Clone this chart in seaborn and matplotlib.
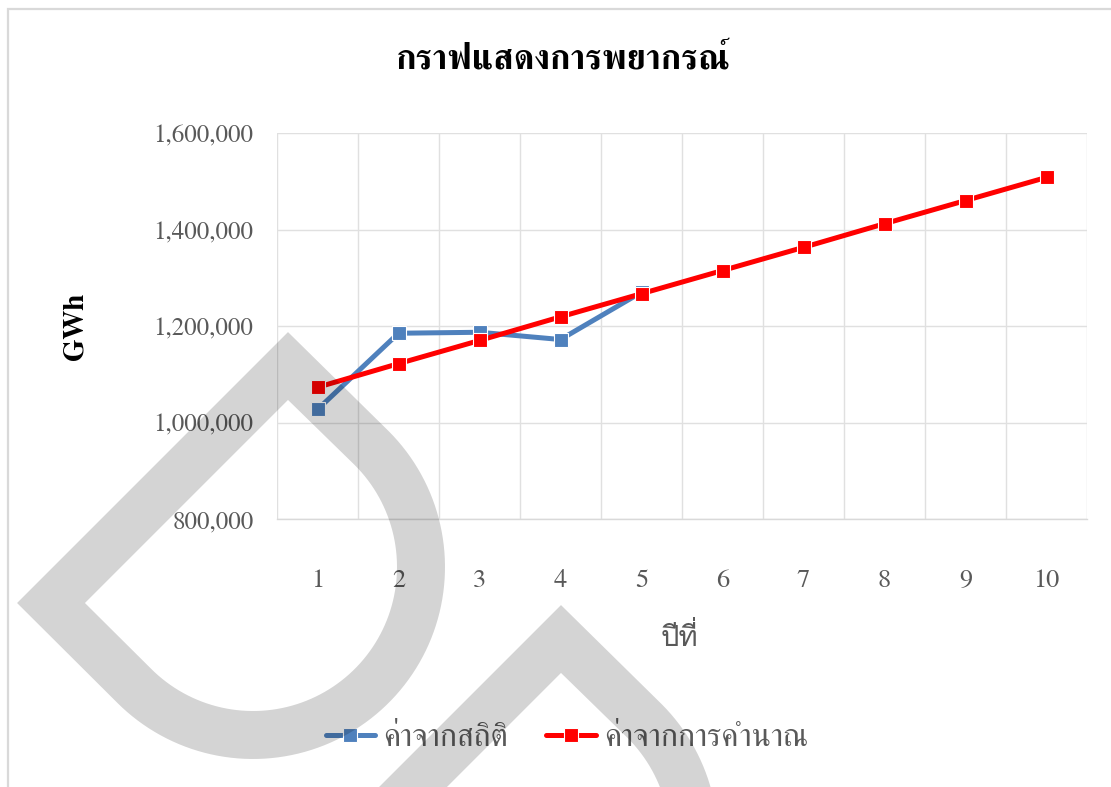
import numpy as np
import pandas as pd
import matplotlib
matplotlib.use("Agg")
import matplotlib.pyplot as plt
from matplotlib.path import Path
from matplotlib.patches import PathPatch, Rectangle
from matplotlib.ticker import FuncFormatter
import seaborn as sns

# ---- data -------------------------------------------------------------
years_stat = [1, 2, 3, 4, 5]
values_stat = [1027000, 1185000, 1187000, 1172000, 1270000]

years_calc = [1, 2, 3, 4, 5, 6, 7, 8, 9, 10]
values_calc = [1073000, 1122000, 1170000, 1219000, 1267000,
               1315000, 1363000, 1412000, 1460000, 1508000]

label_stat = "ค่าจากสถิติ"
label_calc = "ค่าจากการคำนาณ"
title_text = "กราฟแสดงการพยากรณ์"
xlabel_text = "ปีที่"
ylabel_text = "GWh"
y_ticks = [800000, 1000000, 1200000, 1400000, 1600000]

df_stat = pd.DataFrame({"year": years_stat, "value": values_stat})
df_calc = pd.DataFrame({"year": years_calc, "value": values_calc})

# ---- style ------------------------------------------------------------
sns.set_theme(style="white")
plt.rcParams["font.family"] = ["FreeSerif", "DejaVu Serif"]

W, H = 1111, 787
fig = plt.figure(figsize=(W / 100, H / 100), dpi=100)
fig.patch.set_facecolor("white")

TXT = "#595959"
GRID = "#e0e0e0"

ax = fig.add_axes([277 / W, 1 - 519 / H, (1087 - 277) / W, (519 - 133) / H])
ax.set_facecolor("none")

sns.lineplot(data=df_stat, x="year", y="value", ax=ax, color="#4f81bd",
             linewidth=3.6, marker="s", markersize=9.5,
             markeredgecolor="white", markeredgewidth=0.8,
             label=label_stat, zorder=3)
sns.lineplot(data=df_calc, x="year", y="value", ax=ax, color="#ff0000",
             linewidth=3.6, marker="s", markersize=9.5,
             markeredgecolor="white", markeredgewidth=0.8,
             label=label_calc, zorder=4)

ax.set_xlim(0.5, 10.5)
ax.set_ylim(800000, 1600000)
ax.set_xticks(years_calc)
ax.set_xticklabels([str(v) for v in years_calc])
ax.set_xticks(np.arange(0.5, 11, 1), minor=True)
ax.set_yticks(y_ticks)
ax.yaxis.set_major_formatter(FuncFormatter(lambda v, p: f"{int(v):,}"))

ax.grid(False)
ax.grid(True, which="minor", axis="x", color=GRID, linewidth=1.0)
ax.grid(True, which="major", axis="y", color=GRID, linewidth=1.0)
for s in ["top", "right", "left"]:
    ax.spines[s].set_visible(False)
ax.spines["bottom"].set_color("#d9d9d9")
ax.spines["bottom"].set_linewidth(1.0)

ax.tick_params(axis="y", which="both", length=0, pad=17, labelsize=18, labelcolor=TXT)
ax.tick_params(axis="x", which="both", length=0, pad=36, labelsize=19, labelcolor=TXT)

ax.set_xlabel("")
ax.set_ylabel("")

# titles and axis labels
fig.text(563 / W, 1 - 60 / H, title_text, ha="center", va="center",
         fontsize=25, fontweight="bold", color="black")
fig.text(680 / W, 1 - 638 / H, xlabel_text, ha="center", va="center",
         fontsize=21, color=TXT, family=["Loma", "FreeSerif"])
fig.text(75 / W, 1 - 326 / H, ylabel_text, ha="center", va="center",
         rotation=90, fontsize=21, fontweight="bold", color="black")

# legend below the plot
ax.get_legend().remove()
handles, labels = ax.get_legend_handles_labels()
fig.legend(handles, labels, loc="center", bbox_to_anchor=(567 / W, 1 - 738 / H),
           ncol=2, frameon=False, fontsize=23, labelcolor=TXT,
           handlelength=1.55, handletextpad=0.25, columnspacing=1.2)

# chart border
fig.add_artist(Rectangle((8 / W, -0.05), 1.2, 1 - 9 / H + 0.05,
                         transform=fig.transFigure, fill=False,
                         edgecolor="#d9d9d9", linewidth=1.6, zorder=1))


# watermark: a "D"-shaped ring (pixel geometry, y measured downward)
def d_outline(ox, oy, off):
    """Closed outline of the D shape, pushed outward by `off` pixels."""
    d = off * np.sqrt(2)
    apex = np.array([288.0, 366.0 - d]) + (ox, oy)
    left = np.array([51.0 - d, 603.0]) + (ox, oy)
    centre = np.array([253.0, 567.0]) + (ox, oy)
    r = 168.0 + off
    ang = np.radians(np.linspace(135, -45, 90))
    arc = np.column_stack([centre[0] + r * np.cos(ang), centre[1] + r * np.sin(ang)])
    return np.vstack([apex, left, arc])


def d_ring(ox, oy, half=24.0):
    outer = d_outline(ox, oy, half)
    inner = d_outline(ox, oy, -half)[::-1]
    verts, codes = [], []
    for poly in (outer, inner):
        pts = np.column_stack([poly[:, 0] / W, 1 - poly[:, 1] / H])
        verts.extend(pts.tolist())
        verts.append(pts[0].tolist())
        codes.extend([Path.MOVETO] + [Path.LINETO] * (len(pts) - 1) + [Path.CLOSEPOLY])
    return Path(verts, codes)


for off in [(0, 0), (273, 273)]:
    fig.add_artist(PathPatch(d_ring(*off), transform=fig.transFigure,
                             facecolor=(0, 0, 0, 0.17), edgecolor="none",
                             linewidth=0, zorder=10))

fig.savefig("out.png", dpi=100)
